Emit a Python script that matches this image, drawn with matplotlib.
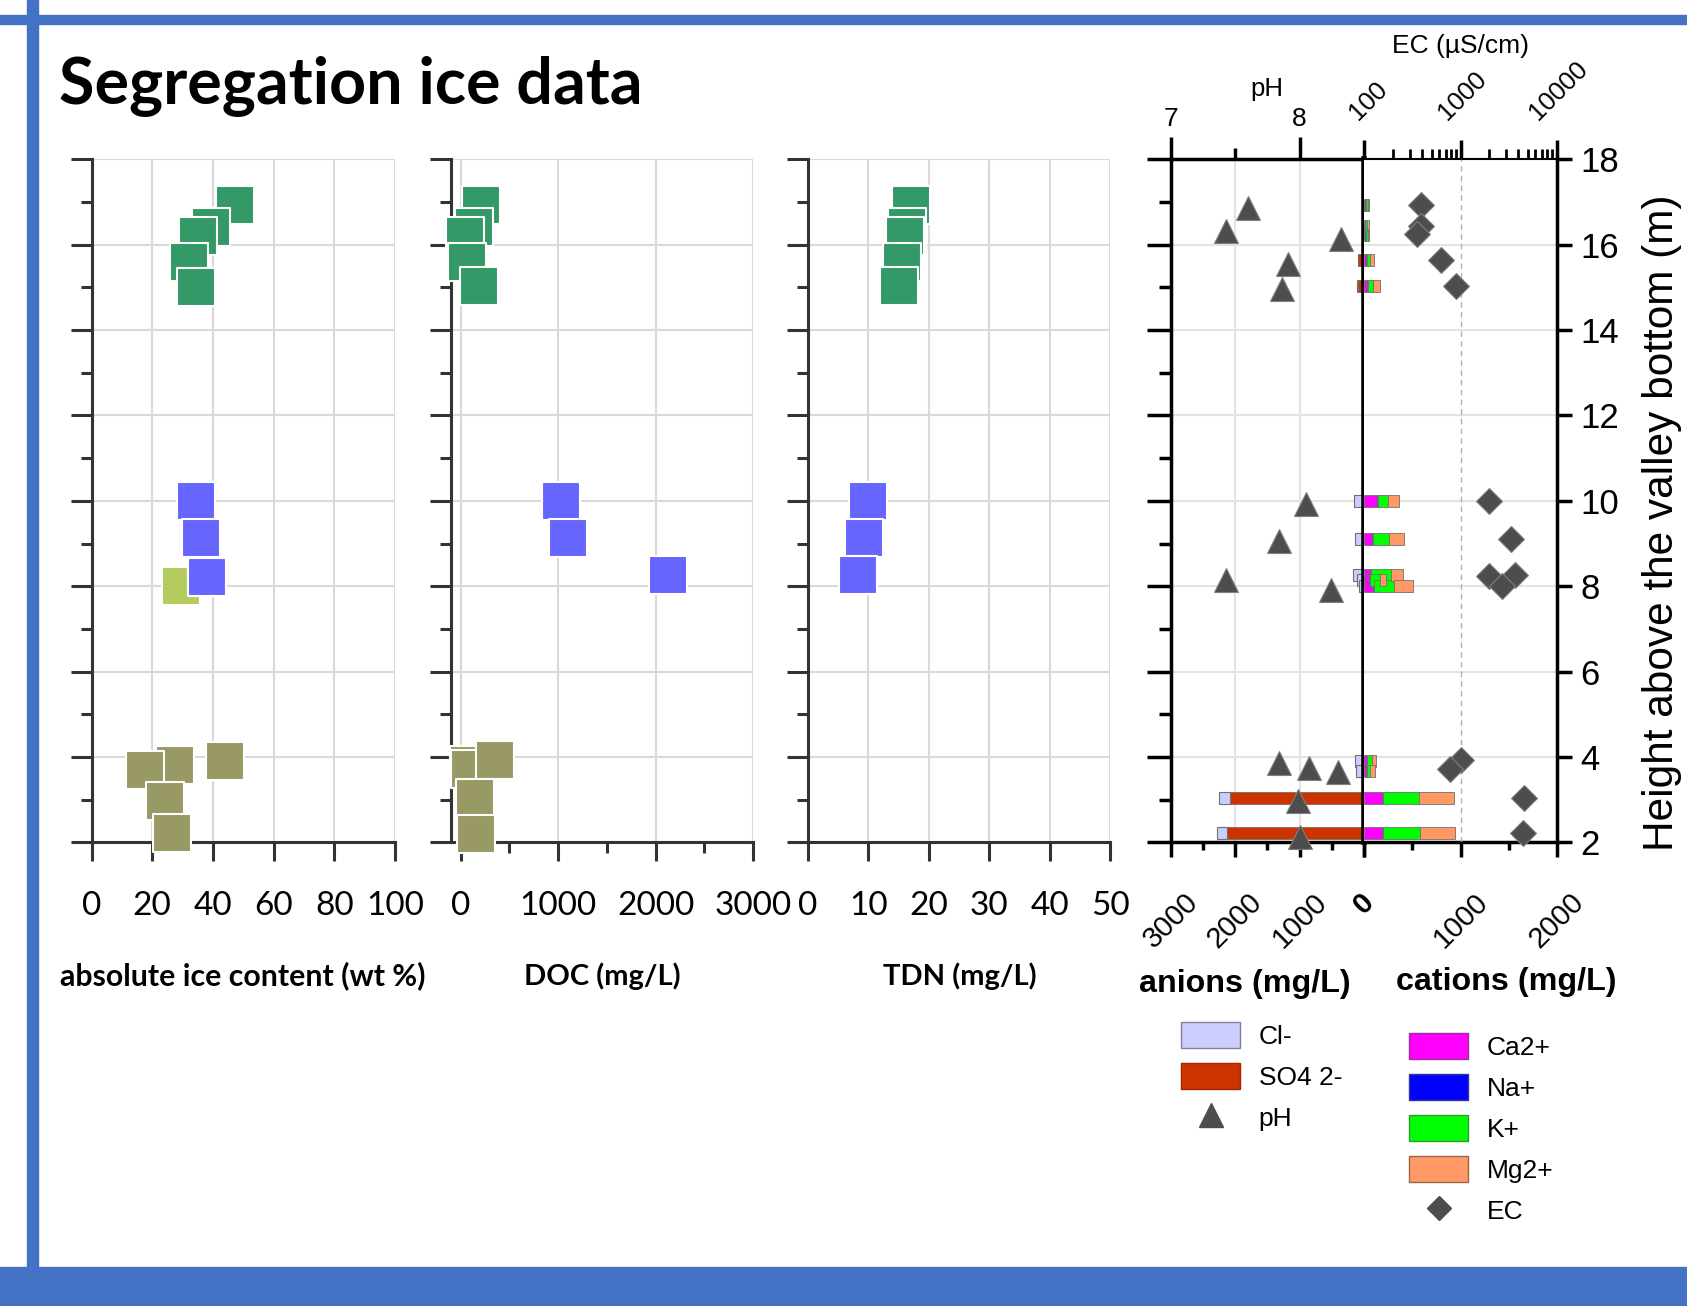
import numpy as np
import matplotlib
matplotlib.use('Agg')
import matplotlib.pyplot as plt
from matplotlib.patches import Patch, Rectangle
from matplotlib.lines import Line2D
from matplotlib.ticker import LogLocator, NullFormatter
from matplotlib.transforms import ScaledTranslation

plt.rcParams['font.family'] = ['Liberation Sans', 'DejaVu Sans']

# ---- values (height in m above valley bottom) ----
ice_green = [47.3, 39.5, 35.0, 32.1, 34.4]
ice_green_h = [16.92, 16.41, 16.21, 15.60, 15.00]
ice_blue = [34.6, 36.0, 38.0]
ice_blue_h = [10.00, 9.12, 8.22]
ice_lime = [29.5]
ice_lime_h = [8.00]
ice_olive = [27.4, 17.6, 43.9, 24.1, 26.4]
ice_olive_h = [3.82, 3.70, 3.90, 2.97, 2.22]

doc_green = [206, 141, 42, 66, 187]
doc_green_h = [16.92, 16.41, 16.21, 15.60, 15.02]
doc_blue = [1031, 1097, 2124]
doc_blue_h = [10.00, 9.12, 8.26]
doc_olive = [84, 94, 352, 150, 155]
doc_olive_h = [3.82, 3.71, 3.93, 3.03, 2.19]

tdn_green = [17.0, 16.4, 16.1, 15.5, 15.0]
tdn_green_h = [16.92, 16.41, 16.21, 15.60, 15.02]
tdn_blue = [9.9, 9.2, 8.3]
tdn_blue_h = [10.00, 9.12, 8.26]

# major ions (mg/L)
ion_h = [16.93, 16.44, 16.22, 15.63, 15.02, 10.0, 9.10, 8.27, 8.15, 8.00, 3.90, 3.68, 3.04, 2.23]
so4 = [20, 15, 20, 90, 95, 3, 3, 3, 3, 3, 3, 3, 2087, 2120]
cl = [5, 5, 10, 10, 15, 150, 140, 170, 110, 80, 135, 120, 165, 165]
ca = [10, 8, 10, 20, 30, 135, 80, 60, 50, 90, 25, 20, 190, 190]
na = [5, 4, 5, 5, 5, 10, 10, 10, 10, 10, 5, 5, 5, 5]
k = [25, 20, 20, 35, 55, 105, 165, 205, 100, 205, 50, 40, 375, 382]
mg = [15, 15, 20, 40, 70, 110, 157, 130, 70, 205, 40, 50, 365, 368]

ph = [7.60, 7.43, 8.32, 7.91, 7.86, 8.05, 7.84, 7.43, 8.24, 7.84, 8.07, 8.30, 7.99, 8.00]
ph_h = [16.86, 16.33, 16.13, 15.55, 14.97, 9.92, 9.05, 8.15, 7.92, 3.87, 3.75, 3.64, 2.96, 2.12]
ec = [386, 392, 356, 632, 902, 1983, 3342, 3690, 1983, 2698, 1000, 776, 4550, 4480]
ec_h = [16.93, 16.44, 16.25, 15.63, 15.02, 10.0, 9.10, 8.27, 8.23, 8.00, 3.93, 3.71, 3.04, 2.23]

W, H = 1687, 1306
fig = plt.figure(figsize=(W / 100, H / 100), dpi=100)


def fx(px):
    return px / W


def fy(py):
    return 1 - py / H


YB, YT = 842.4, 159.2


def add_ax(x0, x1):
    return fig.add_axes([fx(x0), fy(YB), (x1 - x0) / W, (YB - YT) / H])


# blue frame decorations
blue = '#4472c4'
fig.patches.append(Rectangle((0, fy(24)), 1, 9 / H, transform=fig.transFigure, color=blue))
fig.patches.append(Rectangle((fx(27), fy(1267)), 11 / W, 1267 / H, transform=fig.transFigure, color=blue))
fig.patches.append(Rectangle((0, 0), 1, 39 / H, transform=fig.transFigure, color=blue))

fig.text(fx(59), fy(104), 'Segregation ice data', fontsize=46.5, fontweight='bold',
         fontfamily='Lato', va='baseline')

dark = '#333333'
GREEN, BLUE, LIME, OLIVE = '#339966', '#6666ff', '#b3cc5e', '#999966'


def style_left(ax, xlim, xticks, minor=None):
    ax.set_xlim(*xlim)
    ax.set_ylim(2, 18)
    for s in ['top', 'right']:
        ax.spines[s].set_visible(False)
    for s in ['left', 'bottom']:
        ax.spines[s].set_linewidth(2.2)
        ax.spines[s].set_color(dark)
    ax.set_xticks(xticks, [str(t) for t in xticks], fontfamily='Lato', fontsize=24)
    if minor is not None:
        ax.set_xticks(minor, minor=True)
    ax.set_yticks(np.arange(2, 19, 2))
    ax.set_yticks(np.arange(3, 18, 2), minor=True)
    ax.tick_params(axis='y', which='major', length=15, width=2.2, color=dark, labelleft=False)
    ax.tick_params(axis='y', which='minor', length=8, width=2.2, color=dark)
    ax.tick_params(axis='x', which='major', length=14, width=2.2, color=dark, pad=21)
    ax.tick_params(axis='x', which='minor', length=8, width=2.2, color=dark)
    ax.grid(True, which='major', color='#d9d9d9', lw=1.5)
    ax.set_axisbelow(True)


def squares(ax, x, y, c):
    ax.scatter(x, y, s=760, marker='s', color=c, edgecolors='white', linewidths=1.5,
               zorder=3, clip_on=False)


ax1 = add_ax(91.5, 394.9)
style_left(ax1, (0, 100), [0, 20, 40, 60, 80, 100])
squares(ax1, ice_green, ice_green_h, GREEN)
squares(ax1, ice_lime, ice_lime_h, LIME)
squares(ax1, ice_blue, ice_blue_h, BLUE)
squares(ax1, ice_olive, ice_olive_h, OLIVE)

ax2 = add_ax(450.8, 753.1)
style_left(ax2, (-100, 3000), [0, 1000, 2000, 3000], minor=[500, 1500, 2500])
squares(ax2, doc_green, doc_green_h, GREEN)
squares(ax2, doc_blue, doc_blue_h, BLUE)
squares(ax2, doc_olive, doc_olive_h, OLIVE)

ax3 = add_ax(808.0, 1110.3)
style_left(ax3, (0, 50), [0, 10, 20, 30, 40, 50])
squares(ax3, tdn_green, tdn_green_h, GREEN)
squares(ax3, tdn_blue, tdn_blue_h, BLUE)

for xc, txt, fs in [(243, 'absolute ice content (wt %)', 21.8), (602, 'DOC (mg/L)', 21),
                    (960, 'TDN (mg/L)', 21)]:
    fig.text(fx(xc), fy(976), txt, fontsize=fs, fontweight='bold', fontfamily='Lato',
             ha='center', va='center')

# ---- ion panel ----
axL = add_ax(1170.6, 1364.2)
axR = add_ax(1364.2, 1556.8)
axL.set_xlim(3000, 0)
axR.set_xlim(0, 2000)
for a in (axL, axR):
    a.set_ylim(2, 18)
    a.set_yticks(np.arange(2, 19, 2))
    a.grid(True, axis='y', color='#e3e3e3', lw=1.5)
    a.set_axisbelow(True)
axL.grid(True, axis='x', color='#e3e3e3', lw=1.5)

edge = '#707070'
bh = 0.28
axL.barh(ion_h, so4, height=bh, color='#cc3300', edgecolor=edge, lw=0.6, zorder=2)
axL.barh(ion_h, cl, left=so4, height=bh, color='#ccccff', edgecolor=edge, lw=0.8, zorder=2)
left = np.zeros(len(ion_h))
for vals, col in [(ca, '#ff00ff'), (na, '#0000ff'), (k, '#00ff00'), (mg, '#ff9966')]:
    axR.barh(ion_h, vals, left=left, height=bh, color=col, edgecolor=edge, lw=0.6, zorder=2)
    left = left + np.array(vals)

for s in ['left', 'top', 'bottom']:
    axL.spines[s].set_linewidth(2.5)
axL.spines['right'].set_linewidth(4)
axR.spines['left'].set_visible(False)
axR.spines['top'].set_linewidth(1.5)
for s in ['right', 'bottom']:
    axR.spines[s].set_linewidth(2.5)

axL.set_yticks(np.arange(3, 18, 2), minor=True)
axL.tick_params(axis='y', which='major', length=17, width=2.5, labelleft=False)
axL.tick_params(axis='y', which='minor', length=9, width=2.5)
axL.set_xticks([3000, 2000, 1000, 0], ['3000', '2000', '1000', '0'], fontsize=21)
axL.set_xticks([2500, 1500, 500], minor=True)
axL.tick_params(axis='x', which='major', length=11, width=2.5, pad=22, labelrotation=45)
axL.tick_params(axis='x', which='minor', length=6, width=2.5)
for lbl in axL.get_xticklabels():
    lbl.set_ha('center')
    lbl.set_va('top')
axL.get_xticklabels()[-1].set_fontweight('bold')

axR.yaxis.tick_right()
axR.set_yticks(np.arange(2, 19, 2), [str(v) for v in range(2, 19, 2)], fontsize=25)
axR.tick_params(axis='y', which='major', length=11, width=2.5, pad=6)
axR.set_xticks([0, 1000, 2000], ['', '1000', '2000'], fontsize=21)
axR.set_xticks([500, 1500], minor=True)
axR.tick_params(axis='x', which='major', length=11, width=2.5, pad=22, labelrotation=45)
axR.tick_params(axis='x', which='minor', length=6, width=2.5)
for lbl in axR.get_xticklabels():
    lbl.set_ha('center')
    lbl.set_va('top')

# pH on top of the anion side
axP = axL.twiny()
axP.set_xlim(7, 8.5)
for s in axP.spines.values():
    s.set_visible(False)
axP.set_xticks([7, 8], ['7', '8'], fontsize=19)
axP.set_xticks([7.5], minor=True)
axP.tick_params(axis='x', which='major', length=16, width=2.5, pad=4)
axP.tick_params(axis='x', which='minor', length=8, width=2.5)
axP.plot(ph, ph_h, ls='', marker='^', ms=17, color='#4d4d4d', mec='#808080', mew=0.8,
         zorder=4, clip_on=False)

# EC on top of the cation side
axE = axR.twiny()
axE.set_xscale('log')
axE.set_xlim(100, 10000)
for s in axE.spines.values():
    s.set_visible(False)
axE.set_xticks([100, 1000, 10000], ['100', '1000', '10000'], fontsize=18.5)
axE.xaxis.set_minor_locator(LogLocator(base=10, subs=np.arange(2, 10)))
axE.xaxis.set_minor_formatter(NullFormatter())
axE.tick_params(axis='x', which='major', length=14, width=2.5, pad=11)
axE.tick_params(axis='x', which='minor', length=7, width=2)
for lbl, dx in zip(axE.get_xticklabels(), [-2, -7, -11]):
    lbl.set_rotation(45)
    lbl.set_rotation_mode('anchor')
    lbl.set_ha('left')
    lbl.set_va('bottom')
    lbl.set_transform(lbl.get_transform() + ScaledTranslation(dx / 72, 0, fig.dpi_scale_trans))
axE.axvline(1000, ls=(0, (4, 3)), color='#b0b0b0', lw=1, zorder=0)
axE.plot(ec, ec_h, ls='', marker='D', ms=13, color='#4d4d4d', mec='#808080', mew=0.8,
         zorder=4, clip_on=False)

fig.text(fx(1267), fy(89), 'pH', fontsize=18.5, ha='center', va='center')
fig.text(fx(1461), fy(46), 'EC (µS/cm)', fontsize=19, ha='center', va='center')
fig.text(fx(1662), fy(523), 'Height above the valley bottom (m)', fontsize=30.5,
         rotation=90, ha='center', va='center')
fig.text(fx(1245), fy(984), 'anions (mg/L)', fontsize=23.2, fontweight='bold', ha='center', va='center')
fig.text(fx(1506), fy(982), 'cations (mg/L)', fontsize=23.2, fontweight='bold', ha='center', va='center')

# legends
lg_kw = dict(loc='upper left', frameon=False, borderpad=0, borderaxespad=0, handlelength=2.24,
             handleheight=1.14, handletextpad=0.7, labelspacing=0.53, fontsize=19)
left_handles = [Patch(fc='#ccccff', ec='#8080a0', lw=1),
                Patch(fc='#cc3300', ec='#a02800', lw=1),
                Line2D([], [], ls='', marker='^', ms=17, color='#4d4d4d')]
fig.legend(left_handles, ['Cl-', 'SO4 2-', 'pH'], bbox_to_anchor=(fx(1181), fy(1022)), **lg_kw)
right_handles = [Patch(fc='#ff00ff', ec='#993399', lw=1),
                 Patch(fc='#0000ff', ec='#333399', lw=1),
                 Patch(fc='#00ff00', ec='#339933', lw=1),
                 Patch(fc='#ff9966', ec='#996644', lw=1),
                 Line2D([], [], ls='', marker='D', ms=12.5, color='#4d4d4d')]
fig.legend(right_handles, ['Ca2+', 'Na+', 'K+', 'Mg2+', 'EC'], bbox_to_anchor=(fx(1409), fy(1033)), **lg_kw)

fig.savefig('out.png', dpi=100, facecolor='white')
